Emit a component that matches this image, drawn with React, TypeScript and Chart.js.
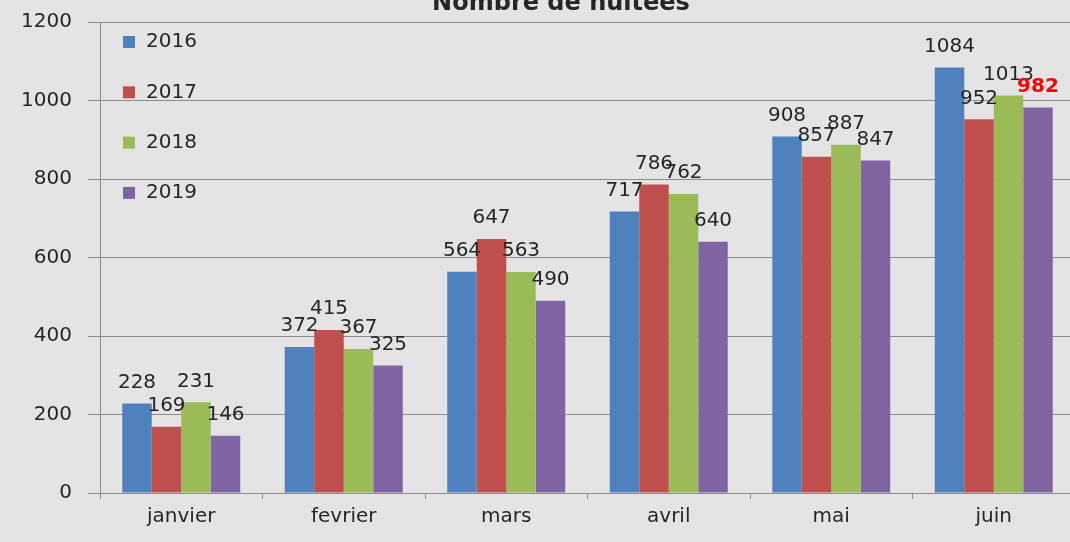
import { useEffect, useRef } from 'react';
import { Chart, registerables } from 'chart.js';
Chart.register(...registerables);

const chartTitle = 'Nombre de nuitées';
const categories = ['janvier', 'fevrier', 'mars', 'avril', 'mai', 'juin'];
const years = ['2016', '2017', '2018', '2019'];
const v2016 = [228, 372, 564, 717, 908, 1084];
const v2017 = [169, 415, 647, 786, 857, 952];
const v2018 = [231, 367, 563, 762, 887, 1013];
const v2019 = [146, 325, 490, 640, 847, 982];
const seriesValues = [v2016, v2017, v2018, v2019];
const seriesColors = ['#4F81BD', '#C0504D', '#9BBB59', '#8064A2'];
const yMax = 1200;
const yStep = 200;
const highlighted = { dataset: 3, index: 5 };

const FONT = '"DejaVu Sans", sans-serif';
const TEXT = '#262626';
const GRID = '#8c8c8c';
const SHIFT = 6;

const bgPlugin = {
  id: 'bg',
  beforeDraw(chart: any) {
    const { ctx, width, height } = chart;
    ctx.save();
    ctx.fillStyle = '#e4e4e4';
    ctx.fillRect(0, 0, width, height);
    ctx.restore();
  },
};

const titlePlugin = {
  id: 'clippedTitle',
  afterDraw(chart: any) {
    const { ctx } = chart;
    ctx.save();
    ctx.font = `bold 24px ${FONT}`;
    ctx.fillStyle = TEXT;
    ctx.textAlign = 'center';
    ctx.textBaseline = 'alphabetic';
    ctx.fillText(chartTitle, 561, 10 + SHIFT);
    ctx.restore();
  },
};

const labelPlugin = {
  id: 'valueLabels',
  afterDatasetsDraw(chart: any) {
    const { ctx } = chart;
    ctx.save();
    ctx.textAlign = 'center';
    ctx.textBaseline = 'middle';
    chart.data.datasets.forEach((ds: any, di: number) => {
      const meta = chart.getDatasetMeta(di);
      meta.data.forEach((bar: any, i: number) => {
        const hi = di === highlighted.dataset && i === highlighted.index;
        ctx.font = `${hi ? 'bold ' : ''}20px ${FONT}`;
        ctx.fillStyle = hi ? '#FF0000' : TEXT;
        ctx.fillText(String(ds.data[i]), bar.x, bar.y - 21);
      });
    });
    ctx.restore();
  },
};

const legendPlugin = {
  id: 'innerLegend',
  afterDraw(chart: any) {
    const { ctx, chartArea } = chart;
    ctx.save();
    ctx.font = `20px ${FONT}`;
    ctx.textBaseline = 'middle';
    ctx.textAlign = 'left';
    chart.data.datasets.forEach((ds: any, i: number) => {
      const cy = chartArea.top + 20 + i * 50.3;
      ctx.fillStyle = ds.backgroundColor;
      ctx.fillRect(chartArea.left + 23, cy - 6, 12, 12);
      ctx.fillStyle = TEXT;
      ctx.fillText(ds.label, chartArea.left + 46, cy);
    });
    ctx.restore();
  },
};

export default function App() {
  const ref = useRef<HTMLCanvasElement>(null);
  useEffect(() => {
    document.body.style.margin = '0';
    document.body.style.overflow = 'hidden';
    const chart = new Chart(ref.current!, {
      type: 'bar',
      data: {
        labels: categories,
        datasets: years.map((y, i) => ({
          label: y,
          data: seriesValues[i],
          backgroundColor: seriesColors[i],
          borderWidth: 0,
          categoryPercentage: 0.726,
          barPercentage: 1,
        })),
      },
      options: {
        responsive: false,
        animation: false,
        layout: { padding: { top: 16, right: 3, left: 0, bottom: 0 } },
        plugins: {
          legend: { display: false },
          title: { display: false },
          tooltip: { enabled: false },
        },
        scales: {
          x: {
            grid: { drawOnChartArea: false, tickLength: 6, color: GRID },
            border: { display: true, color: GRID },
            ticks: { font: { family: FONT, size: 20 }, color: TEXT, padding: 6 },
            afterFit: (s: any) => {
              s.height = 49;
            },
          },
          y: {
            min: 0,
            max: yMax,
            grid: { color: GRID, tickLength: 12 },
            border: { display: true, color: GRID },
            ticks: {
              stepSize: yStep,
              font: { family: FONT, size: 20 },
              color: TEXT,
              padding: 16,
              callback: (v: any) => String(v),
            },
            afterFit: (s: any) => {
              s.width = 100;
            },
          },
        },
      },
      plugins: [bgPlugin, labelPlugin, legendPlugin, titlePlugin],
    });
    return () => chart.destroy();
  }, []);
  return (
    <div style={{ width: 1070, height: 542, overflow: 'hidden', background: '#e4e4e4' }}>
      <canvas
        ref={ref}
        width={1078}
        height={542 + SHIFT}
        style={{ display: 'block', marginTop: -SHIFT }}
      />
    </div>
  );
}
